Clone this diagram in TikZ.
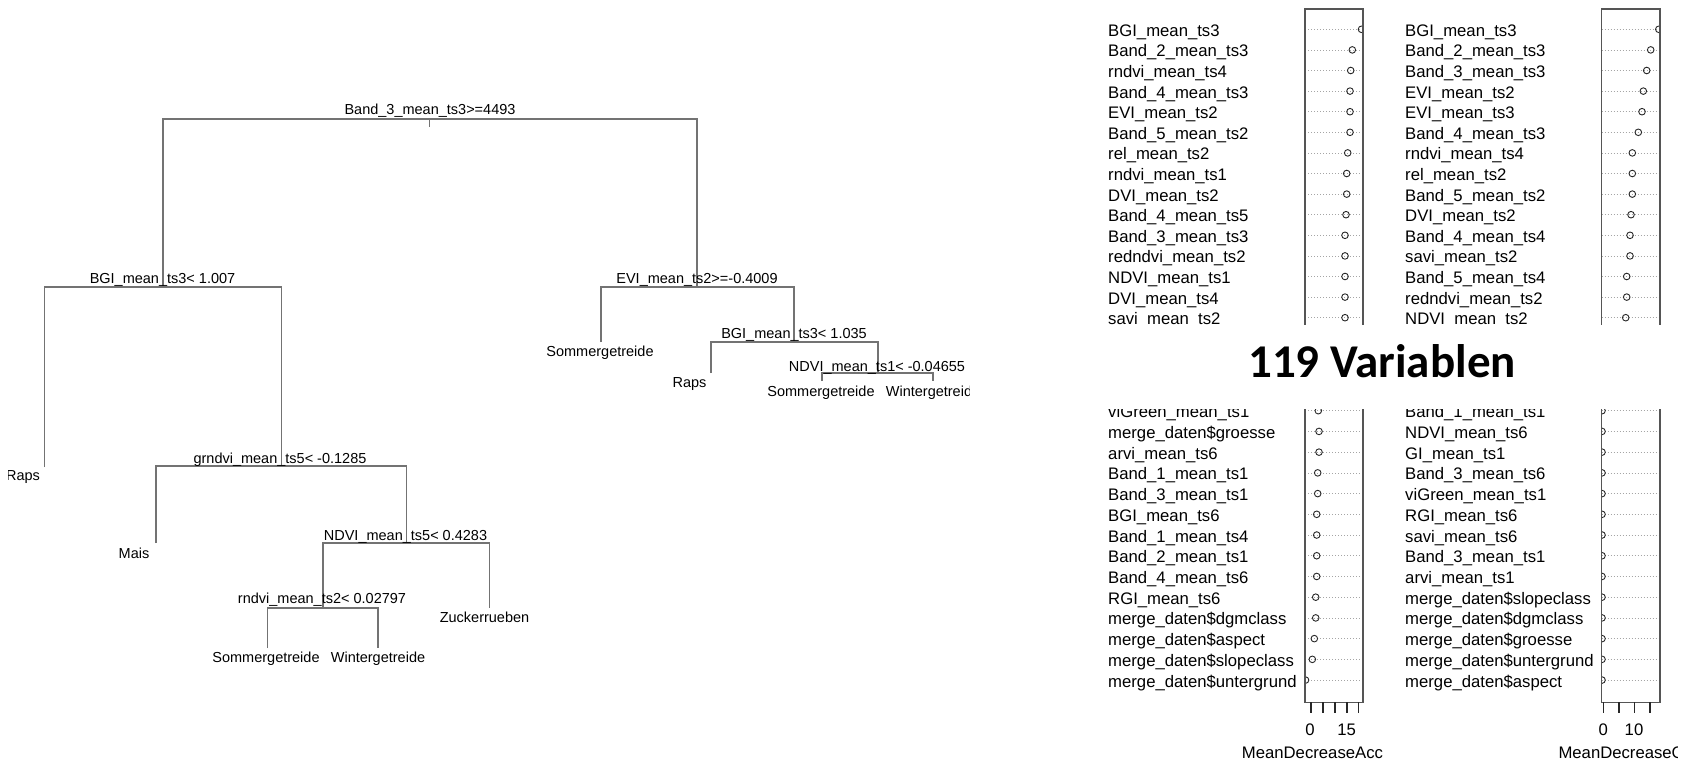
\documentclass[tikz,border=0pt]{standalone}
\usepackage{fontspec}
\setmainfont{Liberation Sans}
\newfontfamily\calib{Carlito}
\definecolor{treegray}{RGB}{115,115,115}
\definecolor{boxgray}{RGB}{85,85,85}
\definecolor{dotgray}{RGB}{165,165,165}
\definecolor{circ}{RGB}{40,40,40}
\tikzset{
  treeline/.style={draw=treegray, line width=1.2pt},
  tlab/.style={inner sep=0pt, anchor=base, font=\fontsize{14.5}{16}\selectfont},
  dlab/.style={inner sep=0pt, anchor=base west, font=\fontsize{16.7}{19}\selectfont},
  alab/.style={inner sep=0pt, anchor=base, font=\fontsize{16.7}{19}\selectfont},
  panelbox/.style={draw=boxgray, line width=1.4pt},
  dotl/.style={draw=dotgray, line width=0.6pt, dash pattern=on 1pt off 2pt},
  dotc/.style={draw=circ, line width=0.9pt},
  tickl/.style={draw=circ, line width=1.1pt}
}
\begin{document}
\begin{tikzpicture}[x=1pt,y=-1pt]
\useasboundingbox (0,0) rectangle (1694,763);
\fill[white] (0,0) rectangle (1694,763);

% ---------------- tree ----------------
\coordinate (r) at (429.6,119);
\coordinate (rt) at (429.6,127);
\coordinate (nB) at (163,287);
\coordinate (nE) at (697,287);
\coordinate (lR1) at (44.6,467);
\coordinate (nG) at (281.4,466);
\coordinate (lM) at (156,543);
\coordinate (nN5) at (406.4,543);
\coordinate (nR) at (322.9,608);
\coordinate (lZ) at (489.3,608);
\coordinate (lS1) at (267.5,648);
\coordinate (lW1) at (377.9,648);
\coordinate (lS2) at (601,342);
\coordinate (nB2) at (794,342);
\coordinate (lR2) at (711,373);
\coordinate (nN1) at (878,373);
\coordinate (lS3) at (822,381);
\coordinate (lW3) at (933,381);

\draw[treeline] (nB) |- (r) -| (nE);
\draw[treeline] (lR1) |- (nB) -| (nG);
\draw[treeline] (lM) |- (nG) -| (nN5);
\draw[treeline] (nR) |- (nN5) -| (lZ);
\draw[treeline] (lS1) |- (nR) -| (lW1);
\draw[treeline] (lS2) |- (nE) -| (nB2);
\draw[treeline] (lR2) |- (nB2) -| (nN1);
\draw[treeline] (lS3) |- (nN1) -| (lW3);
\draw[draw=treegray, line width=1pt] (r) -- (rt);

\node[tlab] (tr) at (430,114) {Band\_3\_mean\_ts3>=4493};
\node[tlab] (tb) at (162.5,283) {BGI\_mean\_ts3< 1.007};
\node[tlab] (tg) at (280,463) {grndvi\_mean\_ts5< -0.1285};
\node[tlab] (tn5) at (405.5,540) {NDVI\_mean\_ts5< 0.4283};
\node[tlab] (trn) at (322,603) {rndvi\_mean\_ts2< 0.02797};
\node[tlab] (ts1) at (266,662) {Sommergetreide};
\node[tlab] (tw1) at (378,662) {Wintergetreide};
\node[tlab] (tz) at (484.5,622) {Zuckerrueben};
\node[tlab] (tm) at (134,558) {Mais};
\begin{scope}
\clip (8.5,460) rectangle (70,490);
\node[tlab] (tr1) at (23,480) {Raps};
\end{scope}
\node[tlab] (te) at (697,283) {EVI\_mean\_ts2>=-0.4009};
\node[tlab] (ts2) at (600,356) {Sommergetreide};
\node[tlab] (tb2) at (794,338) {BGI\_mean\_ts3< 1.035};
\node[tlab] (tr2) at (689.5,387) {Raps};
\node[tlab] (tn1) at (877,371) {NDVI\_mean\_ts1< -0.04655};
\node[tlab] (ts3) at (821,396) {Sommergetreide};
\begin{scope}
\clip (870,380) rectangle (969,410);
\node[tlab] (tw3) at (933,396) {Wintergetreide};
\end{scope}

% ---------------- upper left panel ----------------
\begin{scope}
\clip (1090,0) rectangle (1390,324);
\foreach \lab [count=\i from 0] in {BGI\_mean\_ts3, Band\_2\_mean\_ts3, rndvi\_mean\_ts4, Band\_4\_mean\_ts3, EVI\_mean\_ts2, Band\_5\_mean\_ts2, rel\_mean\_ts2, rndvi\_mean\_ts1, DVI\_mean\_ts2, Band\_4\_mean\_ts5, Band\_3\_mean\_ts3, redndvi\_mean\_ts2, NDVI\_mean\_ts1, DVI\_mean\_ts4, savi\_mean\_ts2}{
  \pgfmathsetmacro\yy{29.3+20.6*\i+7}
  \node[dlab] (ul\i) at (1108,\yy) {\lab};
}
\begin{scope}
\clip (1305,9) rectangle (1363,324);
\foreach \x [count=\i from 0] in {1361.5,1352.3,1350.7,1350,1350,1350,1347.7,1346.7,1346.7,1346,1345,1345,1345,1345,1345}{
  \pgfmathsetmacro\yy{29.3+20.6*\i}
  \draw[dotl] (1305,\yy) -- (1363,\yy);
  \draw[dotc] (\x,\yy) circle[radius=3.3pt];
}
\end{scope}
\draw[panelbox] (1305,330) |- (1363,9) -- (1363,330);
\end{scope}

% ---------------- upper right panel ----------------
\begin{scope}
\clip (1390,0) rectangle (1694,324);
\foreach \lab [count=\i from 0] in {BGI\_mean\_ts3, Band\_2\_mean\_ts3, Band\_3\_mean\_ts3, EVI\_mean\_ts2, EVI\_mean\_ts3, Band\_4\_mean\_ts3, rndvi\_mean\_ts4, rel\_mean\_ts2, Band\_5\_mean\_ts2, DVI\_mean\_ts2, Band\_4\_mean\_ts4, savi\_mean\_ts2, Band\_5\_mean\_ts4, redndvi\_mean\_ts2, NDVI\_mean\_ts2}{
  \pgfmathsetmacro\yy{29.3+20.6*\i+7}
  \node[dlab] (ur\i) at (1405,\yy) {\lab};
}
\begin{scope}
\clip (1601.7,9) rectangle (1660,324);
\foreach \x [count=\i from 0] in {1658.8,1650.7,1646.7,1643.3,1642,1638.3,1632.3,1632.3,1632.3,1631,1630,1630,1626.7,1626.7,1625.7}{
  \pgfmathsetmacro\yy{29.3+20.6*\i}
  \draw[dotl] (1601.7,\yy) -- (1660,\yy);
  \draw[dotc] (\x,\yy) circle[radius=3.3pt];
}
\end{scope}
\draw[panelbox] (1601.7,330) |- (1660,9) -- (1660,330);
\end{scope}

% ---------------- lower left panel ----------------
\begin{scope}
\clip (1090,409) rectangle (1382.5,763);
\foreach \lab [count=\i from 0] in {viGreen\_mean\_ts1, merge\_daten\$groesse, arvi\_mean\_ts6, Band\_1\_mean\_ts1, Band\_3\_mean\_ts1, BGI\_mean\_ts6, Band\_1\_mean\_ts4, Band\_2\_mean\_ts1, Band\_4\_mean\_ts6, RGI\_mean\_ts6, merge\_daten\$dgmclass, merge\_daten\$aspect, merge\_daten\$slopeclass, merge\_daten\$untergrund}{
  \pgfmathsetmacro\yy{410.7+20.72*\i+7}
  \node[dlab] (ll\i) at (1108,\yy) {\lab};
}
\begin{scope}
\clip (1305,400) rectangle (1363,702.3);
\foreach \x [count=\i from 0] in {1318.3,1319,1319,1317.7,1317.7,1316.7,1316.7,1316.7,1316.7,1315.7,1315.7,1314.3,1312.3,1305.5}{
  \pgfmathsetmacro\yy{410.7+20.72*\i}
  \draw[dotl] (1305,\yy) -- (1363,\yy);
  \draw[dotc] (\x,\yy) circle[radius=3.3pt];
}
\end{scope}
\draw[panelbox] (1305,400) |- (1363,702.3) -- (1363,400);
\foreach \tx [count=\i] in {1311,1323,1335,1347,1358.7}{
  \draw[tickl] (\tx,702.3) -- (\tx,712.5);
}
\node[alab] (la0) at (1310,735.3) {0};
\node[alab] (la15) at (1346.7,735.3) {15};
\node[dlab] (lax) at (1241.7,758) {MeanDecreaseAccuracy};
\end{scope}

% ---------------- lower right panel ----------------
\begin{scope}
\clip (1390,409) rectangle (1677,763);
\foreach \lab [count=\i from 0] in {Band\_1\_mean\_ts1, NDVI\_mean\_ts6, GI\_mean\_ts1, Band\_3\_mean\_ts6, viGreen\_mean\_ts1, RGI\_mean\_ts6, savi\_mean\_ts6, Band\_3\_mean\_ts1, arvi\_mean\_ts1, merge\_daten\$slopeclass, merge\_daten\$dgmclass, merge\_daten\$groesse, merge\_daten\$untergrund, merge\_daten\$aspect}{
  \pgfmathsetmacro\yy{410.7+20.72*\i+7}
  \node[dlab] (lr\i) at (1405,\yy) {\lab};
}
\begin{scope}
\clip (1601.7,400) rectangle (1660,702.3);
\foreach \i in {0,...,13}{
  \pgfmathsetmacro\yy{410.7+20.72*\i}
  \draw[dotl] (1601.7,\yy) -- (1660,\yy);
  \draw[dotc] (1602,\yy) circle[radius=3.3pt];
}
\end{scope}
\draw[panelbox] (1601.7,400) |- (1660,702.3) -- (1660,400);
\foreach \tx in {1603.3,1619,1634.7,1650}{
  \draw[tickl] (\tx,702.3) -- (\tx,712.5);
}
\node[alab] (ra0) at (1603.3,735.3) {0};
\node[alab] (ra10) at (1634,735.3) {10};
\node[dlab] (rax) at (1558.3,758) {MeanDecreaseGini};
\end{scope}

% ---------------- title ----------------
\node[inner sep=0pt, anchor=base west, font=\calib\bfseries\fontsize{47}{51}\selectfont] (title) at (1248,377) {119 Variablen};
\end{tikzpicture}
\end{document}
